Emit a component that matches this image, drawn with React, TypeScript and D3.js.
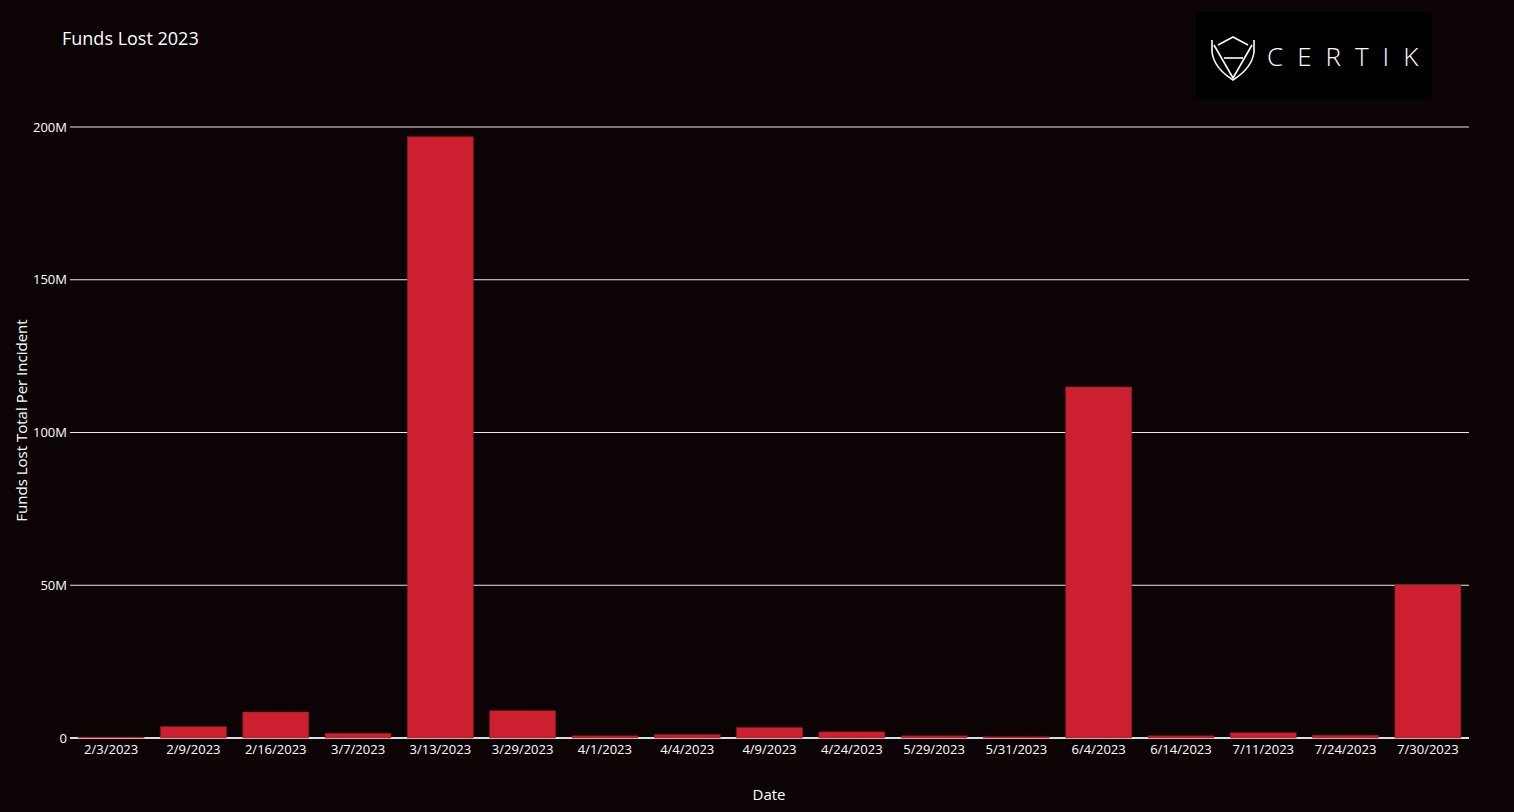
import React from "react";
import * as d3 from "d3";

const categories = ["2/3/2023","2/9/2023","2/16/2023","3/7/2023","3/13/2023","3/29/2023","4/1/2023","4/4/2023","4/9/2023","4/24/2023","5/29/2023","5/31/2023","6/4/2023","6/14/2023","7/11/2023","7/24/2023","7/30/2023"];
const fundsLost = [0.3e6, 3.7e6, 8.5e6, 1.5e6, 196.8e6, 8.9e6, 0.7e6, 1.1e6, 3.4e6, 2.0e6, 0.7e6, 0.4e6, 114.9e6, 0.7e6, 1.7e6, 0.9e6, 50.1e6];
const yTicks = [0, 50e6, 100e6, 150e6, 200e6];
const yTickLabels = ["0", "50M", "100M", "150M", "200M"];

const W = 1514, H = 812;
const M = { left: 70, right: 45, top: 127, bottom: 74 };
const FONT = "'Open Sans', 'Noto Sans', sans-serif";

export default function App() {
  const x = d3.scaleBand().domain(categories).range([M.left, W - M.right]).paddingInner(0.2).paddingOuter(0.1);
  const y = d3.scaleLinear().domain([0, 200e6]).range([H - M.bottom, M.top]);
  return (
    <svg width={W} height={H} style={{ position: "absolute", left: 0, top: 0, display: "block" }}>
      <rect x={0} y={0} width={W} height={H} fill="#0b0304" />
      <text x={62} y={45} fill="#ffffff" fontFamily={FONT} fontSize={18}>Funds Lost 2023</text>
      {yTicks.map((t, i) => (
        <g key={i}>
          {i > 0 && <line x1={M.left} x2={W - M.right} y1={y(t)} y2={y(t)} stroke="#e8e8e8" strokeWidth={1} />}
          <text x={M.left - 3} y={y(t)} dy="0.35em" textAnchor="end" fill="#ffffff" fontFamily={FONT} fontSize={13}>{yTickLabels[i]}</text>
        </g>
      ))}
      <line x1={M.left} x2={W - M.right} y1={y(0)} y2={y(0)} stroke="#d8dbe3" strokeWidth={2} />
      {categories.map((c, i) => (
        <rect key={c} x={x(c)} y={y(fundsLost[i])} width={x.bandwidth()} height={y(0) - y(fundsLost[i])} fill="#cc1f2f" stroke="#9e1a24" strokeWidth={0.5} />
      ))}
      {categories.map((c) => (
        <text key={c} x={(x(c) as number) + x.bandwidth() / 2} y={y(0) + 16} textAnchor="middle" fill="#ffffff" fontFamily={FONT} fontSize={13}>{c}</text>
      ))}
      <text x={769} y={800} textAnchor="middle" fill="#ffffff" fontFamily={FONT} fontSize={15}>Date</text>
      <text transform={`translate(27, ${(M.top + H - M.bottom) / 2 - 12}) rotate(-90)`} textAnchor="middle" fill="#ffffff" fontFamily={FONT} fontSize={15}>Funds Lost Total Per Incident</text>
      <g>
        <rect x={1196} y={12} width={236} height={87} fill="#000000" />
        <g fill="none" stroke="#ffffff" strokeWidth={1.6} strokeLinejoin="round">
          <path d="M1218,45 L1233,37 L1248,45" />
          <path d="M1212,40 L1212,52 Q1214,68 1233,80 Q1252,68 1254,52 L1254,40" />
          <path d="M1214,45 L1233,78 L1252,45" />
          <line x1={1224} y1={58} x2={1243} y2={58} />
        </g>
        <text x={1267} y={66} fill="#ffffff" fontFamily={FONT} fontSize={26} fontWeight={300} letterSpacing={14}>CERTIK</text>
      </g>
    </svg>
  );
}
